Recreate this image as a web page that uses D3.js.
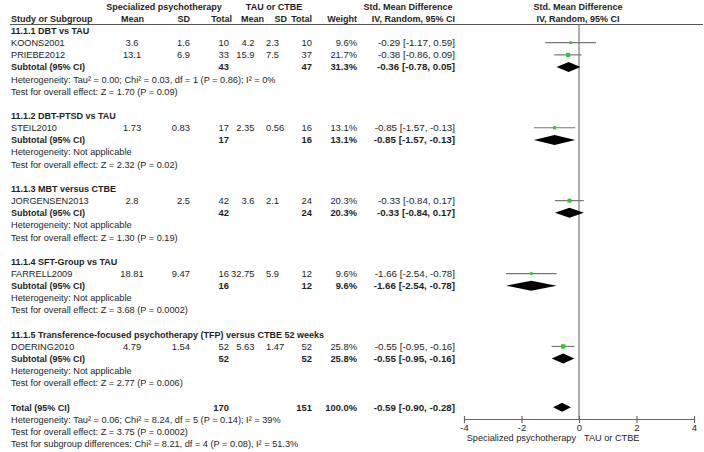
<!DOCTYPE html>
<html>
<head>
<meta charset="utf-8">
<script src="https://cdn.jsdelivr.net/npm/d3@7"></script>
<style>
  body { margin: 0; background: #fff; }
  text { font-family: "Liberation Sans", Arial, sans-serif; font-size: 9.2px; fill: #1e1e1e; }
  .b { font-weight: bold; font-size: 9px; }
  .num { font-size: 9.4px; }
  .num.b { font-size: 9.4px; }
  .ci, .ci.b { font-size: 9.75px; }
</style>
</head>
<body>
<div id="forest"></div>
<script>
// study level data
var studies   = ["KOONS2001", "PRIEBE2012", "STEIL2010", "JORGENSEN2013", "FARRELL2009", "DOERING2010"];
var studyGroup = [0, 0, 1, 2, 3, 4];
var spMean = [3.6, 13.1, 1.73, 2.8, 18.81, 4.79];
var spSD   = [1.6, 6.9, 0.83, 2.5, 9.47, 1.54];
var spN    = [10, 33, 17, 42, 16, 52];
var tauMean = [4.2, 15.9, 2.35, 3.6, 32.75, 5.63];
var tauSD   = [2.3, 7.5, 0.56, 2.1, 5.9, 1.47];
var tauN    = [10, 37, 16, 24, 12, 52];
var weights = [9.6, 21.7, 13.1, 20.3, 9.6, 25.8];
var smd    = [-0.29, -0.38, -0.85, -0.33, -1.66, -0.55];
var ciLow  = [-1.17, -0.86, -1.57, -0.84, -2.54, -0.95];
var ciHigh = [0.59, 0.09, -0.13, 0.17, -0.78, -0.16];

// subgroup data
var groupNames = ["11.1.1 DBT vs TAU", "11.1.2 DBT-PTSD vs TAU", "11.1.3 MBT versus CTBE",
                  "11.1.4 SFT-Group vs TAU", "11.1.5 Transference-focused psychotherapy (TFP) versus CTBE 52 weeks"];
var subSpN  = [43, 17, 42, 16, 52];
var subTauN = [47, 16, 24, 12, 52];
var subWeight = [31.3, 13.1, 20.3, 9.6, 25.8];
var subSmd  = [-0.36, -0.85, -0.33, -1.66, -0.55];
var subLow  = [-0.78, -1.57, -0.84, -2.54, -0.95];
var subHigh = [0.05, -0.13, 0.17, -0.78, -0.16];
var subHet = ["Heterogeneity: Tau\u00b2 = 0.00; Chi\u00b2 = 0.03, df = 1 (P = 0.86); I\u00b2 = 0%",
              "Heterogeneity: Not applicable", "Heterogeneity: Not applicable",
              "Heterogeneity: Not applicable", "Heterogeneity: Not applicable"];
var subTest = ["Test for overall effect: Z = 1.70 (P = 0.09)", "Test for overall effect: Z = 2.32 (P = 0.02)",
               "Test for overall effect: Z = 1.30 (P = 0.19)", "Test for overall effect: Z = 3.68 (P = 0.0002)",
               "Test for overall effect: Z = 2.77 (P = 0.006)"];

// overall
var totalN = [170, 151];
var totalWeight = 100.0;
var totalCI = [-0.59, -0.90, -0.28];
var totalNotes = ["Heterogeneity: Tau\u00b2 = 0.06; Chi\u00b2 = 8.24, df = 5 (P = 0.14); I\u00b2 = 39%",
                  "Test for overall effect: Z = 3.75 (P = 0.0002)",
                  "Test for subgroup differences: Chi\u00b2 = 8.21, df = 4 (P = 0.08), I\u00b2 = 51.3%"];

var axisTicks = [-4, -2, 0, 2, 4];
var favoursLeft = "Specialized psychotherapy";
var favoursRight = "TAU or CTBE";

var w = 704, h = 452;
var rowStep = 12.15, rowTop = 6.25;

function f2(v) { return v.toFixed(2); }
function ciText(m, lo, hi) { return f2(m) + " [" + f2(lo) + ", " + f2(hi) + "]"; }

// build row list
var rows = [];
rows.push({ type: "head1" });
rows.push({ type: "head2" });
groupNames.forEach(function(g, gi) {
  rows.push({ type: "group", label: g });
  studies.forEach(function(s, i) {
    if (studyGroup[i] == gi) rows.push({ type: "study", i: i });
  });
  rows.push({ type: "sub", g: gi });
  rows.push({ type: "note", label: subHet[gi] });
  rows.push({ type: "note", label: subTest[gi] });
  rows.push({ type: "blank" });
});
rows.push({ type: "total" });
totalNotes.forEach(function(t) { rows.push({ type: "note", label: t }); });

var yScale = d3.scaleLinear().domain([0, 1]).range([rowTop, rowTop + rowStep]);
var xScale = d3.scaleLinear().domain([-4, 4]).range([464, 694]);
var boxSize = d3.scaleSqrt().domain([0, 25.8]).range([0, 4.4]);

var svg = d3.select("#forest").append("svg").attr("width", w).attr("height", h);

// numeric columns: x, anchor
var cols = {
  spMean: [132, "middle"], spSD: [190, "end"], spN: [229, "end"],
  tauMean: [254.5, "end"], tauSD: [266, "start"], tauN: [312, "end"], weight: [357, "end"], ci: [455, "end"]
};

function put(col, y, txt, bold) {
  var cls = col == "ci" ? "ci" : "num";
  svg.append("text")
     .attr("class", bold ? cls + " b" : cls)
     .attr("x", cols[col][0])
     .attr("y", y + 3.4)
     .attr("text-anchor", cols[col][1])
     .text(txt);
}

function label(x, y, txt, anchor, bold) {
  svg.append("text")
     .attr("class", bold ? "b" : null)
     .attr("x", x).attr("y", y + 3.4)
     .attr("text-anchor", anchor)
     .text(txt);
}

// header
var y0 = yScale(0), y1 = yScale(1);
label(164, y0, "Specialized psychotherapy", "middle", true);
label(274, y0, "TAU or CTBE", "middle", true);
label(408, y0, "Std. Mean Difference", "middle", true);
label(578, y0, "Std. Mean Difference", "middle", true);
label(11, y1, "Study or Subgroup", "start", true);
label(144, y1, "Mean", "end", true);
label(190, y1, "SD", "end", true);
label(232, y1, "Total", "end", true);
label(264, y1, "Mean", "end", true);
label(287, y1, "SD", "end", true);
label(312, y1, "Total", "end", true);
label(357, y1, "Weight", "end", true);
label(455, y1, "IV, Random, 95% CI", "end", true);
label(578, y1, "IV, Random, 95% CI", "middle", true);

svg.append("line")
   .attr("x1", 10).attr("x2", 703)
   .attr("y1", 24.5).attr("y2", 24.5)
   .attr("stroke", "#555").attr("stroke-width", 1);

// zero line
var axisY = 419;
svg.append("line")
   .attr("x1", xScale(0)).attr("x2", xScale(0))
   .attr("y1", 24.5).attr("y2", axisY)
   .attr("stroke", "#777").attr("stroke-width", 1.2);

function diamond(lo, m, hi, y, half) {
  return "M" + xScale(lo) + "," + y + "L" + xScale(m) + "," + (y - half) +
         "L" + xScale(hi) + "," + y + "L" + xScale(m) + "," + (y + half) + "Z";
}

rows.forEach(function(r, ri) {
  var y = yScale(ri);
  if (r.type == "group") {
    label(11, y, r.label, "start", true);
  } else if (r.type == "note") {
    label(11, y, r.label, "start", false);
  } else if (r.type == "study") {
    var i = r.i;
    label(11, y, studies[i], "start", false);
    put("spMean", y, String(spMean[i]));
    put("spSD", y, String(spSD[i]));
    put("spN", y, String(spN[i]));
    put("tauMean", y, String(tauMean[i]));
    put("tauSD", y, String(tauSD[i]));
    put("tauN", y, String(tauN[i]));
    put("weight", y, weights[i].toFixed(1) + "%");
    put("ci", y, ciText(smd[i], ciLow[i], ciHigh[i]));
    svg.append("line")
       .attr("x1", xScale(ciLow[i])).attr("x2", xScale(ciHigh[i]))
       .attr("y1", y).attr("y2", y)
       .attr("stroke", "#777").attr("stroke-width", 1.2);
    var s = boxSize(weights[i]);
    svg.append("rect")
       .attr("x", xScale(smd[i]) - s / 2).attr("y", y - s / 2)
       .attr("width", s).attr("height", s)
       .attr("fill", "#2ec82e");
  } else if (r.type == "sub") {
    var g = r.g;
    label(11, y, "Subtotal (95% CI)", "start", true);
    put("spN", y, String(subSpN[g]), true);
    put("tauN", y, String(subTauN[g]), true);
    put("weight", y, subWeight[g].toFixed(1) + "%", true);
    put("ci", y, ciText(subSmd[g], subLow[g], subHigh[g]), true);
    svg.append("path")
       .attr("d", diamond(subLow[g], subSmd[g], subHigh[g], y, 5))
       .attr("fill", "#000");
  } else if (r.type == "total") {
    label(11, y, "Total (95% CI)", "start", true);
    put("spN", y, String(totalN[0]), true);
    put("tauN", y, String(totalN[1]), true);
    put("weight", y, totalWeight.toFixed(1) + "%", true);
    put("ci", y, ciText(totalCI[0], totalCI[1], totalCI[2]), true);
    svg.append("path")
       .attr("d", diamond(totalCI[1], totalCI[0], totalCI[2], y, 4.5))
       .attr("fill", "#000");
  }
});

// x axis
var xAxis = d3.axisBottom(xScale)
              .tickValues(axisTicks)
              .tickSize(4)
              .tickSizeOuter(0)
              .tickPadding(1)
              .tickFormat(function(d) { return String(d); });

var gAxis = svg.append("g")
   .attr("transform", "translate(0," + axisY + ")")
   .call(xAxis);
gAxis.select(".domain").attr("stroke", "#666").attr("stroke-width", 1.2);
gAxis.selectAll(".tick line").attr("y1", -3).attr("stroke", "#666").attr("stroke-width", 1.2);
gAxis.selectAll(".tick text")
     .style("font-family", "Liberation Sans, Arial, sans-serif")
     .style("font-size", "9.5px").attr("fill", "#1e1e1e");

label(xScale(0) - 3, 438, favoursLeft, "end", false);
label(xScale(0) + 5, 438, favoursRight, "start", false);
</script>
</body>
</html>
